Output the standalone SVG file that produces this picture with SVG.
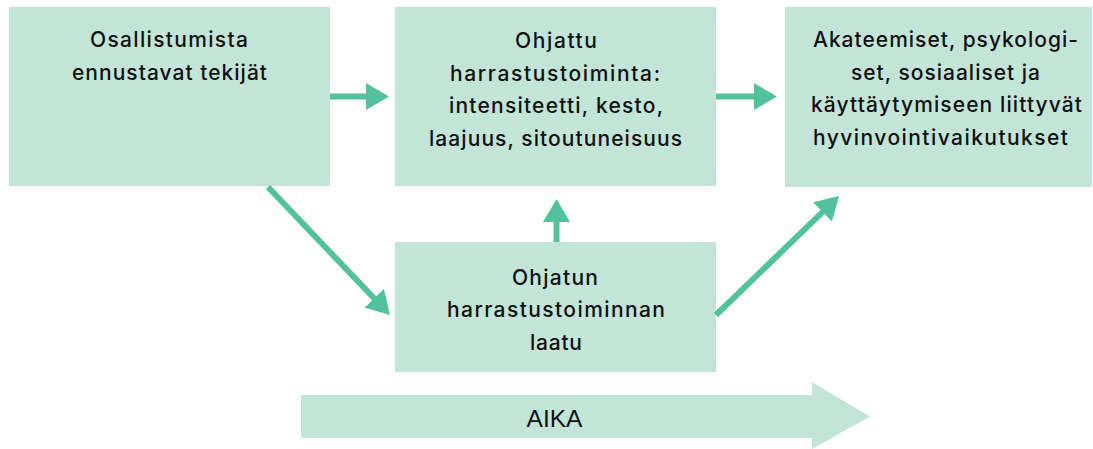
<svg xmlns="http://www.w3.org/2000/svg" width="1093" height="449" viewBox="0 0 1093 449">
<style>
.box{fill:#c3e5d8}
.t{font-family:Inter,"Liberation Sans",sans-serif;font-size:21px;font-weight:500;fill:#111;text-anchor:middle}
.con{stroke:#52c19d;stroke-width:6;fill:none;marker-end:url(#ah)}
.aika{font-family:"Liberation Sans",Arial,sans-serif;font-size:24.5px;fill:#111;text-anchor:middle}
</style>
<defs>
<marker id="ah" viewBox="0 0 23 27" markerWidth="23" markerHeight="27" refX="1" refY="13.5" orient="auto" markerUnits="userSpaceOnUse">
<path d="M0,0 L23,13.5 L0,27 Z" fill="#52c19d"/>
</marker>
</defs>
<rect width="1093" height="449" fill="#fff"/>
<g id="aika">
<polygon class="box" points="301,395 812,395 812,382 870,416.5 812,449 812,438 301,438"/>
<text class="aika" x="554.5" y="427">AIKA</text>
</g>
<g id="node-ennustavat">
<rect class="box" x="9" y="7" width="321" height="179"/>
<text class="t" x="169" y="47" textLength="158" lengthAdjust="spacing">Osallistumista</text>
<text class="t" x="169.5" y="80" textLength="195" lengthAdjust="spacing">ennustavat tekijät</text>
</g>
<g id="node-ohjattu">
<rect class="box" x="395" y="7" width="321" height="179"/>
<text class="t" x="556" y="48" textLength="82" lengthAdjust="spacing">Ohjattu</text>
<text class="t" x="555" y="80.5" textLength="210" lengthAdjust="spacing">harrastustoiminta:</text>
<text class="t" x="556" y="113" textLength="214" lengthAdjust="spacing">intensiteetti, kesto,</text>
<text class="t" x="555.5" y="145.5" textLength="253" lengthAdjust="spacing">laajuus, sitoutuneisuus</text>
</g>
<g id="node-vaikutukset">
<rect class="box" x="785" y="7" width="307" height="180"/>
<text class="t" x="945.5" y="47" textLength="265" lengthAdjust="spacing">Akateemiset, psykologi-</text>
<text class="t" x="945.5" y="79.5" textLength="189" lengthAdjust="spacing">set, sosiaaliset ja</text>
<text class="t" x="946.5" y="112" textLength="271" lengthAdjust="spacing">käyttäytymiseen liittyvät</text>
<text class="t" x="940.5" y="145" textLength="255" lengthAdjust="spacing">hyvinvointivaikutukset</text>
</g>
<g id="node-laatu">
<rect class="box" x="395" y="242" width="321" height="130"/>
<text class="t" x="555" y="285" textLength="86" lengthAdjust="spacing">Ohjatun</text>
<text class="t" x="556" y="317" textLength="218" lengthAdjust="spacing">harrastustoiminnan</text>
<text class="t" x="556" y="349.5" textLength="52" lengthAdjust="spacing">laatu</text>
</g>
<g id="connectors">
<line class="con" x1="330" y1="96.5" x2="367" y2="96.5"/>
<line class="con" x1="716" y1="96.5" x2="755" y2="96.5"/>
<line class="con" x1="268" y1="187" x2="374.8" y2="299"/>
<line class="con" x1="716" y1="315" x2="823.2" y2="211.3"/>
<line class="con" x1="556.5" y1="242" x2="556.5" y2="221"/>
</g>
</svg>
